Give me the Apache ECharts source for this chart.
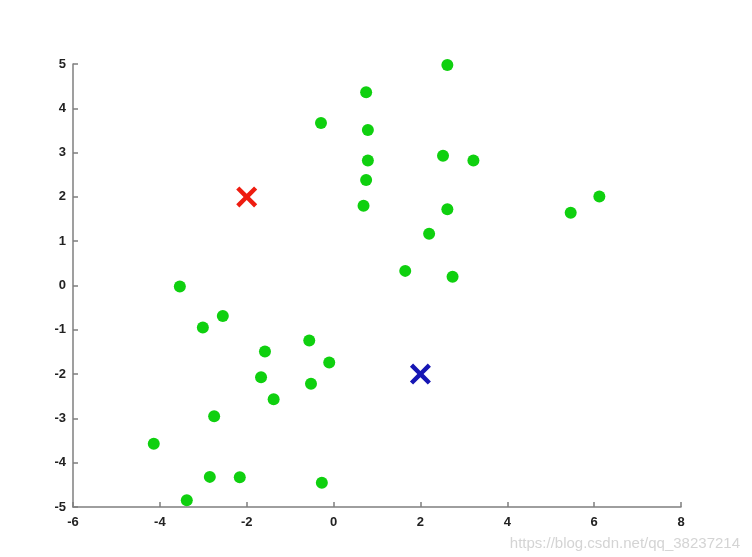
<!DOCTYPE html>
<html>
<head>
<meta charset="utf-8">
<script src="https://cdn.jsdelivr.net/npm/echarts@6/dist/echarts.min.js"></script>
<style>html,body{margin:0;padding:0;background:#fff;}#c{width:752px;height:557px;}</style>
</head>
<body>
<div id="c"></div>
<script>
const pointsX = [2.62,0.75,-0.29,0.79,2.52,3.22,0.79,0.75,0.69,2.62,5.46,6.12,2.20,1.65,2.74,
  -3.54,-3.01,-2.55,-0.56,-1.58,-0.10,-1.67,-0.52,-1.38,-2.75,-4.14,-2.85,-2.16,-0.27,-3.38];
const pointsY = [4.98,4.36,3.67,3.51,2.93,2.82,2.82,2.38,1.80,1.72,1.64,2.01,1.17,0.33,0.20,
  -0.02,-0.95,-0.69,-1.24,-1.49,-1.74,-2.07,-2.22,-2.57,-2.95,-3.57,-4.32,-4.33,-4.45,-4.85];
const centroidRed = [-2, 2];
const centroidBlue = [2, -2];
const xTicks = [-6, 8, 2];
const yTicks = [-5, 5, 1];
const watermark = 'https://blog.csdn.net/qq_38237214';

const pts = pointsX.map((x, i) => [x, pointsY[i]]);
const xPath = 'path://M3,0 L10,7 L17,0 L20,3 L13,10 L20,17 L17,20 L10,13 L3,20 L0,17 L7,10 L0,3 Z';
const labelStyle = {color: '#222', fontSize: 13, fontWeight: 'bold', fontFamily: 'Liberation Sans, Arial, sans-serif'};
const axisCommon = {
  axisLine: {show: true, onZero: false, lineStyle: {color: '#7f7f7f', width: 1.5}},
  axisTick: {show: true, inside: true, length: 5, lineStyle: {color: '#7f7f7f', width: 1.5}},
  splitLine: {show: false}
};
const chart = echarts.init(document.getElementById('c'));
chart.setOption({
  animation: false,
  backgroundColor: '#fff',
  grid: {left: 73, top: 64, right: 71, bottom: 50, containLabel: false},
  xAxis: Object.assign({type: 'value', min: xTicks[0], max: xTicks[1], interval: xTicks[2]}, axisCommon,
    {axisLabel: Object.assign({}, labelStyle, {margin: 9})}),
  yAxis: Object.assign({type: 'value', min: yTicks[0], max: yTicks[1], interval: yTicks[2]}, axisCommon,
    {axisLabel: Object.assign({}, labelStyle, {margin: 7})}),
  series: [
    {type: 'scatter', data: pts, symbol: 'circle', symbolSize: 12, itemStyle: {color: '#0fd00f', opacity: 1}},
    {type: 'scatter', data: [centroidRed], symbol: xPath, symbolSize: 21, itemStyle: {color: '#ee1c10', opacity: 1}},
    {type: 'scatter', data: [centroidBlue], symbol: xPath, symbolSize: 21, itemStyle: {color: '#1616b4', opacity: 1}}
  ],
  graphic: [{type: 'text', right: 12, bottom: 6, style: {text: watermark, fill: '#d4d4d4', fontSize: 15, fontFamily: 'Liberation Sans, Arial, sans-serif'}}]
});
</script>
</body>
</html>
